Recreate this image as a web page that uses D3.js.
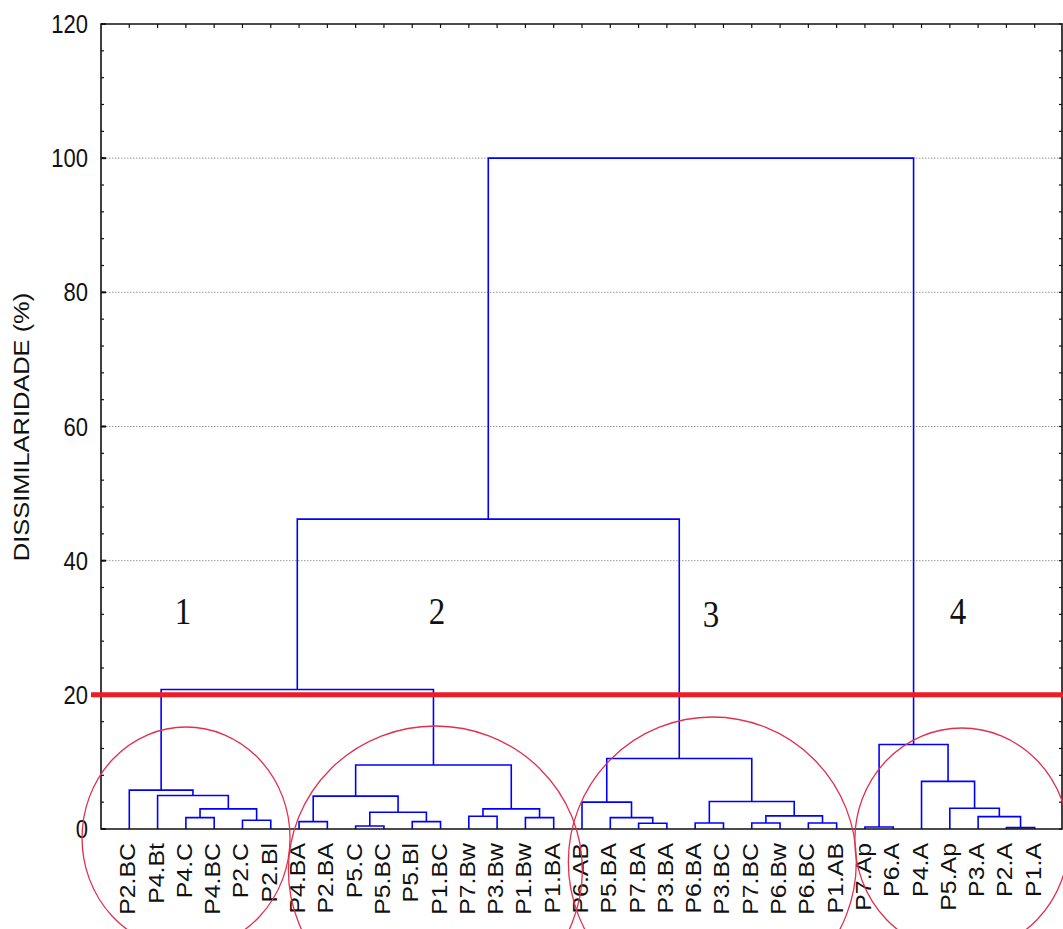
<!DOCTYPE html>
<html>
<head>
<meta charset="utf-8">
<script src="https://cdn.jsdelivr.net/npm/d3@7/dist/d3.min.js"></script>
<style>
  html, body { margin: 0; padding: 0; background: #fff; }
  svg { display: block; }
</style>
</head>
<body>
<svg id="chart" width="1063" height="929"></svg>
<script>
// Horizon samples (leaves, in dendrogram order)
const leaves = [
  "P2.BC","P4.Bt","P4.C","P4.BC","P2.C","P2.Bl",
  "P4.BA","P2.BA","P5.C","P5.BC","P5.Bl","P1.BC","P7.Bw","P3.Bw","P1.Bw","P1.BA",
  "P6.AB","P5.BA","P7.BA","P3.BA","P6.BA","P3.BC","P7.BC","P6.Bw","P6.BC","P1.AB",
  "P7.Ap","P6.A","P4.A","P5.Ap","P3.A","P2.A","P1.A"
];

// Linkage steps: [left child, right child, dissimilarity %]
// ids 0..32 are leaves, merge k gets id 33 + k
const mergeLeft  = [2, 4, 33, 1, 0,   6, 8, 10, 39, 38, 12, 14, 43, 42, 37,
                    18, 17, 16, 20, 22, 24, 52, 51, 50, 47,   26, 31, 30, 29, 28, 58, 57];
const mergeRight = [3, 5, 34, 35, 36, 7, 9, 11, 40, 41, 13, 15, 44, 45, 46,
                    19, 48, 49, 21, 23, 25, 53, 54, 55, 56,   27, 32, 59, 60, 61, 62, 63];
const mergeHeight = [1.7, 1.3, 3.0, 5.0, 5.8,
                     1.1, 0.45, 1.1, 2.5, 4.9, 1.9, 1.7, 3.0, 9.55, 20.8,
                     0.85, 1.7, 4.0, 0.9, 0.9, 0.9, 1.95, 4.1, 10.5, 46.2,
                     0.3, 0.2, 1.85, 3.1, 7.1, 12.6, 100];

// Axis ticks and the cut level
const yTicks = [0, 20, 40, 60, 80, 100, 120];
const yMinorTicks = d3.range(0, 121, 4);
const cutLevel = 20;

// Group labels and the leaves each group spans
const groupNames = ["1", "2", "3", "4"];
const groupFirstLeaf = [0, 6, 16, 26];
const groupLastLeaf  = [5, 15, 25, 32];

const svg = d3.select("#chart");
const W = 1063, H = 929;
const plotLeft = 101, plotRight = 1062, plotTop = 24, plotBottom = 829;

const x = d3.scaleLinear().domain([-1, leaves.length]).range([plotLeft, plotRight + 1]);
const y = d3.scaleLinear().domain([0, 120]).range([plotBottom, plotTop]);

const sansFont = "'Liberation Sans', Arial, sans-serif";
const serifFont = "'Liberation Serif', 'Times New Roman', serif";
const stretch = 1.13;

// dotted grid lines
svg.append("g").selectAll("line")
  .data(yTicks.filter(v => v > 0 && v < 120))
  .join("line")
  .attr("x1", plotLeft + 2).attr("x2", plotRight)
  .attr("y1", d => y(d)).attr("y2", d => y(d))
  .attr("stroke", "#9a9a9a").attr("stroke-width", 1)
  .attr("stroke-dasharray", "1.5,1.5");

// node positions
const nodeX = leaves.map((_, i) => x(i));
const nodeH = leaves.map(() => 0);
mergeLeft.forEach((l, k) => {
  nodeX.push((nodeX[l] + nodeX[mergeRight[k]]) / 2);
  nodeH.push(mergeHeight[k]);
});

// dendrogram links
const links = svg.append("g")
  .attr("fill", "none").attr("stroke", "#0000ff").attr("stroke-width", 1.6);
mergeLeft.forEach((l, k) => {
  const r = mergeRight[k];
  const h = mergeHeight[k];
  const p = d3.path();
  p.moveTo(nodeX[l], y(nodeH[l]));
  p.lineTo(nodeX[l], y(h));
  p.lineTo(nodeX[r], y(h));
  p.lineTo(nodeX[r], y(nodeH[r]));
  links.append("path").attr("d", p.toString());
});

// frame
const frame = svg.append("g").attr("stroke", "#111").attr("fill", "none");
frame.append("path")
  .attr("d", `M${plotLeft},${plotTop}H${plotRight}V${plotBottom}H${plotLeft}Z`)
  .attr("stroke-width", 1.6);

// left and right ticks
yMinorTicks.forEach(v => {
  frame.append("line").attr("x1", plotLeft).attr("x2", plotLeft + 3)
    .attr("y1", y(v)).attr("y2", y(v)).attr("stroke-width", 1.2);
  frame.append("line").attr("x1", plotRight).attr("x2", plotRight - 3)
    .attr("y1", y(v)).attr("y2", y(v)).attr("stroke-width", 1.2);
});
yTicks.forEach(v => {
  frame.append("line").attr("x1", plotLeft).attr("x2", plotLeft + 5)
    .attr("y1", y(v)).attr("y2", y(v)).attr("stroke-width", 2);
});
// top ticks at each leaf
leaves.forEach((_, i) => {
  frame.append("line").attr("x1", x(i)).attr("x2", x(i))
    .attr("y1", plotTop).attr("y2", plotTop + 4).attr("stroke-width", 1.2);
});

// y tick labels
svg.append("g").selectAll("text")
  .data(yTicks).join("text")
  .attr("transform", d => `translate(88,${y(d) + 9}) scale(1,${stretch})`)
  .attr("text-anchor", "end")
  .attr("font-family", sansFont).attr("font-size", 22)
  .attr("fill", "#111")
  .text(d => d);

// y axis title
svg.append("text")
  .attr("transform", `translate(29,427) scale(1,${stretch}) rotate(-90)`)
  .attr("text-anchor", "middle")
  .attr("font-family", sansFont).attr("font-size", 22.5)
  .attr("fill", "#111")
  .text("DISSIMILARIDADE (%)");

// leaf labels
svg.append("g").selectAll("text")
  .data(leaves).join("text")
  .attr("transform", (d, i) => `translate(${x(i) + 6},843) scale(1,${stretch}) rotate(-90)`)
  .attr("text-anchor", "end")
  .attr("font-family", sansFont).attr("font-size", 22)
  .attr("fill", "#111")
  .text(d => d);

// cut line
svg.append("line")
  .attr("x1", 91).attr("x2", W)
  .attr("y1", y(cutLevel)).attr("y2", y(cutLevel))
  .attr("stroke", "#ee1c24").attr("stroke-width", 5);

// group rings around the clusters below the cut
const ringOffset = [-14, 9, 3, 12];
const ringTop = [727, 726, 717, 728];
const ringRx = [104, 147, 144, 107];
const ringRy = [111, 144, 145, 112];
svg.append("g").selectAll("ellipse")
  .data(groupNames).join("ellipse")
  .attr("cx", (d, i) => (x(groupFirstLeaf[i]) + x(groupLastLeaf[i])) / 2 + ringOffset[i])
  .attr("cy", (d, i) => ringTop[i] + ringRy[i])
  .attr("rx", (d, i) => ringRx[i])
  .attr("ry", (d, i) => ringRy[i])
  .attr("fill", "none").attr("stroke", "#e0304e").attr("stroke-width", 1.3);

// group numbers
const groupLabelX = [183, 437, 711, 958];
const groupLabelY = [624, 624, 627, 624];
svg.append("g").selectAll("text")
  .data(groupNames).join("text")
  .attr("transform", (d, i) => `translate(${groupLabelX[i]},${groupLabelY[i]}) scale(1,${stretch})`)
  .attr("text-anchor", "middle")
  .attr("font-family", serifFont).attr("font-size", 33)
  .attr("fill", "#111")
  .text(d => d);
</script>
</body>
</html>
